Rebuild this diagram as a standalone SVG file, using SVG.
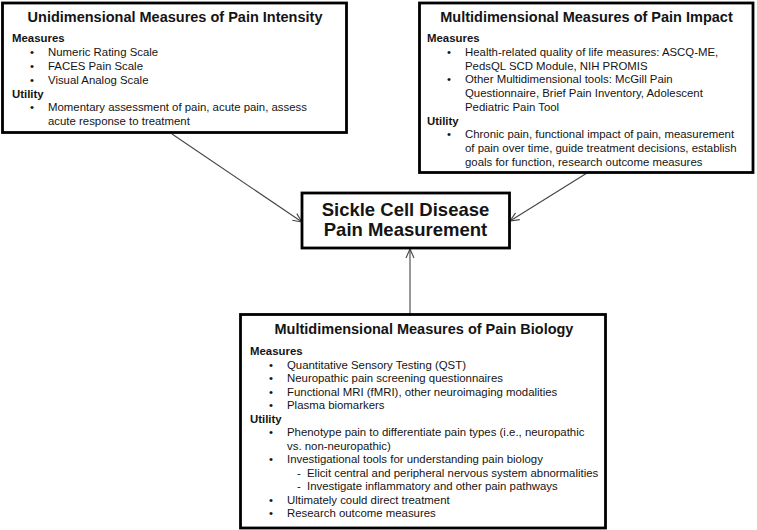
<svg xmlns="http://www.w3.org/2000/svg" width="757" height="530" viewBox="0 0 757 530">
<style>
text{font-family:"Liberation Sans",Arial,Helvetica,sans-serif;fill:#141414}
.box{fill:#fff;stroke:#000;stroke-width:2.8}
.t{font-size:14.5px;font-weight:bold;text-anchor:middle}
.h{font-size:11.4px;font-weight:bold}
.b{font-size:11.4px}
.c{font-size:18.5px;font-weight:bold;text-anchor:middle}
.conn{stroke:#444;stroke-width:1.1;fill:none;marker-end:url(#arr)}
</style>
<defs>
<marker id="arr" viewBox="0 0 10 10" refX="10" refY="5" markerWidth="10" markerHeight="10" markerUnits="userSpaceOnUse" orient="auto">
<path d="M1,1 L10,5 L1,9" fill="none" stroke="#444" stroke-width="1.1"/>
</marker>
</defs>
<g id="connectors">
<line class="conn" x1="172" y1="134" x2="302" y2="222"/>
<line class="conn" x1="587" y1="173" x2="510" y2="221"/>
<line class="conn" x1="410" y1="314" x2="410" y2="249"/>
</g>
<g id="intensity">
<rect class="box" x="2.5" y="3" width="344" height="129.5"/>
<text class="t" x="175" y="22">Unidimensional Measures of Pain Intensity</text>
<text class="h" x="12" y="42">Measures</text>
<text class="b" x="30" y="56">•</text><text class="b" x="48" y="56">Numeric Rating Scale</text>
<text class="b" x="30" y="70">•</text><text class="b" x="48" y="70">FACES Pain Scale</text>
<text class="b" x="30" y="84">•</text><text class="b" x="48" y="84">Visual Analog Scale</text>
<text class="h" x="12" y="97.5">Utility</text>
<text class="b" x="30" y="111">•</text><text class="b" x="48" y="111">Momentary assessment of pain, acute pain, assess</text>
<text class="b" x="48" y="125">acute response to treatment</text>
</g>
<g id="impact">
<rect class="box" x="419.5" y="3" width="333.5" height="169.5"/>
<text class="t" x="586.5" y="22">Multidimensional Measures of Pain Impact</text>
<text class="h" x="427" y="42">Measures</text>
<text class="b" x="447" y="56">•</text><text class="b" x="465" y="56">Health-related quality of life measures: ASCQ-ME,</text>
<text class="b" x="465" y="69.7">PedsQL SCD Module, NIH PROMIS</text>
<text class="b" x="447" y="83.4">•</text><text class="b" x="465" y="83.4">Other Multidimensional tools: McGill Pain</text>
<text class="b" x="465" y="97.1">Questionnaire, Brief Pain Inventory, Adolescent</text>
<text class="b" x="465" y="110.8">Pediatric Pain Tool</text>
<text class="h" x="427" y="124.5">Utility</text>
<text class="b" x="447" y="138.2">•</text><text class="b" x="465" y="138.2">Chronic pain, functional impact of pain, measurement</text>
<text class="b" x="465" y="151.9">of pain over time, guide treatment decisions, establish</text>
<text class="b" x="465" y="165.6">goals for function, research outcome measures</text>
</g>
<g id="center">
<rect class="box" x="302" y="193" width="207.5" height="55"/>
<text class="c" x="405.5" y="216">Sickle Cell Disease</text>
<text class="c" x="405.5" y="236">Pain Measurement</text>
</g>
<g id="biology">
<rect class="box" x="240.5" y="314.5" width="365" height="213.5"/>
<text class="t" x="424" y="334">Multidimensional Measures of Pain Biology</text>
<text class="h" x="250" y="355">Measures</text>
<text class="b" x="269" y="368.5">•</text><text class="b" x="287" y="368.5">Quantitative Sensory Testing (QST)</text>
<text class="b" x="269" y="382">•</text><text class="b" x="287" y="382">Neuropathic pain screening questionnaires</text>
<text class="b" x="269" y="395.5">•</text><text class="b" x="287" y="395.5">Functional MRI (fMRI), other neuroimaging modalities</text>
<text class="b" x="269" y="409">•</text><text class="b" x="287" y="409">Plasma biomarkers</text>
<text class="h" x="250" y="422.5">Utility</text>
<text class="b" x="269" y="436">•</text><text class="b" x="287" y="436">Phenotype pain to differentiate pain types (i.e., neuropathic</text>
<text class="b" x="287" y="449.5">vs. non-neuropathic)</text>
<text class="b" x="269" y="463">•</text><text class="b" x="287" y="463">Investigational tools for understanding pain biology</text>
<text class="b" x="297" y="476.5">-</text><text class="b" x="307" y="476.5">Elicit central and peripheral nervous system abnormalities</text>
<text class="b" x="297" y="490">-</text><text class="b" x="307" y="490">Investigate inflammatory and other pain pathways</text>
<text class="b" x="269" y="503.5">•</text><text class="b" x="287" y="503.5">Ultimately could direct treatment</text>
<text class="b" x="269" y="517">•</text><text class="b" x="287" y="517">Research outcome measures</text>
</g>
</svg>
